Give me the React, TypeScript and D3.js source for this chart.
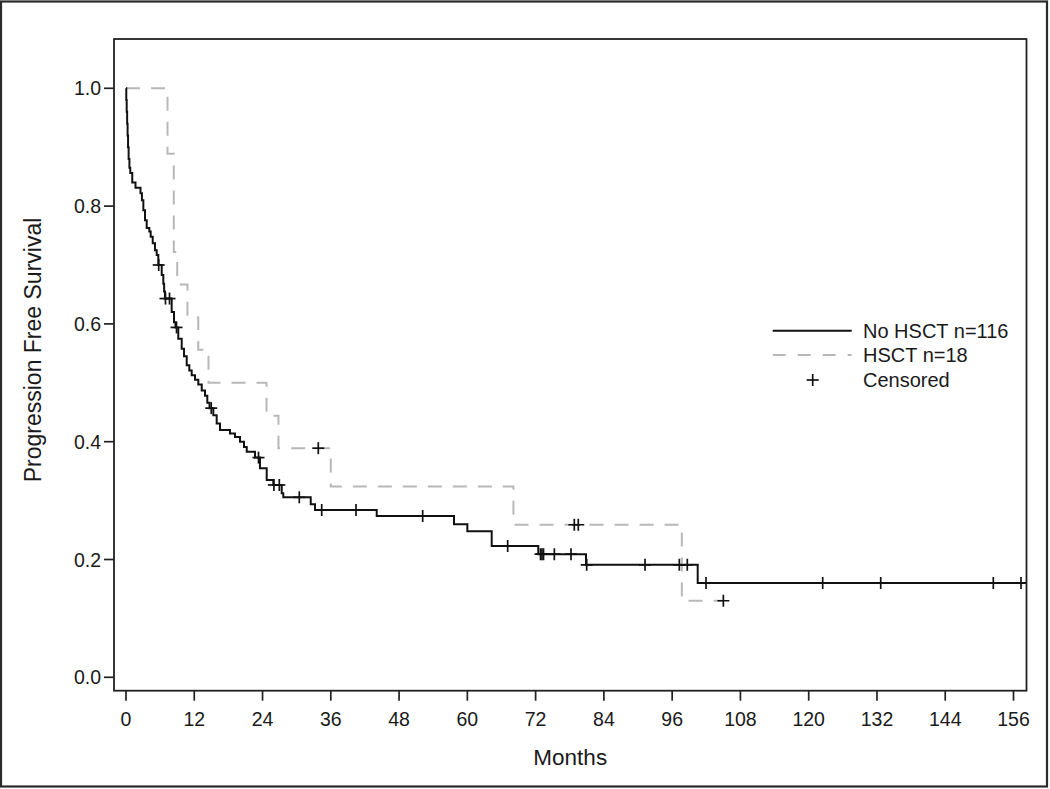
import React from "react";
import * as d3 from "d3";

// ---------- Data ----------
// No HSCT n=116 : Kaplan-Meier steps (time in months, survival after step)
const noHsctTimes = [0, 0.05, 0.12, 0.2, 0.28, 0.36, 0.46, 0.6, 0.75, 1.1, 1.67, 2.55, 2.8, 3.05, 3.34, 3.64, 4.1, 4.34, 4.7, 5.1, 5.4, 5.68, 6.28, 6.56, 6.7, 6.85, 8.03, 8.44, 8.7, 9.19, 9.79, 10.2, 10.67, 11.13, 11.55, 12.13, 12.71, 13.31, 13.89, 14.29, 14.68, 15.35, 15.94, 16.52, 18.28, 19.16, 20.04, 20.74, 21.22, 22.68, 23.55, 24.73, 25.89, 27.37, 27.65, 32.47, 33.22, 44.07, 57.65, 60.0, 64.28, 72.47, 80.86, 100.49];
const noHsctSurv = [1.0, 0.98, 0.96, 0.94, 0.92, 0.9, 0.88, 0.865, 0.856, 0.84, 0.831, 0.822, 0.81, 0.793, 0.776, 0.763, 0.757, 0.748, 0.737, 0.725, 0.717, 0.7, 0.683, 0.668, 0.655, 0.643, 0.62, 0.603, 0.594, 0.575, 0.558, 0.545, 0.53, 0.521, 0.513, 0.505, 0.497, 0.487, 0.478, 0.466, 0.457, 0.445, 0.431, 0.42, 0.414, 0.408, 0.4, 0.391, 0.383, 0.373, 0.355, 0.335, 0.3265, 0.3124, 0.3056, 0.294, 0.284, 0.274, 0.26, 0.248, 0.223, 0.209, 0.191, 0.16];
const noHsctEnd = 158.2;
const noHsctCensor = [5.75, 6.94, 7.65, 8.88, 14.98, 23.29, 26.0, 26.95, 30.46, 34.4, 40.43, 52.15, 67.09, 72.86, 73.12, 73.39, 75.29, 78.22, 80.98, 91.23, 97.26, 98.66, 101.95, 122.46, 132.66, 152.45, 157.32];

// HSCT n=18
const hsctTimes = [0, 7.3, 8.4, 9.0, 10.8, 12.7, 14.5, 24.7, 26.8, 36.0, 68.1, 97.7];
const hsctSurv = [1.0, 0.889, 0.722, 0.667, 0.611, 0.556, 0.5, 0.444, 0.389, 0.324, 0.259, 0.13];
const hsctEnd = 105.0;
const hsctCensor = [33.8, 78.8, 79.5, 105.0];

const xTicks = [0, 12, 24, 36, 48, 60, 72, 84, 96, 108, 120, 132, 144, 156];
const yTicks = [0, 0.2, 0.4, 0.6, 0.8, 1.0];
const legendLabels = ["No HSCT n=116", "HSCT n=18", "Censored"];

// ---------- Layout ----------
const W = 1050;
const H = 789;
const plot = { left: 114, right: 1026.5, top: 39, bottom: 690.7 };
const FONT = "Arial, 'Liberation Sans', Helvetica, sans-serif";
const INK = "#1a1a1a";

const x = d3.scaleLinear().domain([0, 156]).range([126, 1013.5]);
const y = d3.scaleLinear().domain([0, 1]).range([677.3, 88.3]);

function survAt(times: number[], surv: number[], t: number) {
  let s = surv[0];
  for (let i = 0; i < times.length; i++) {
    if (times[i] <= t) s = surv[i];
  }
  return s;
}

function stepPath(times: number[], surv: number[], end: number) {
  const pts: [number, number][] = times.map((t, i) => [t, surv[i]]);
  pts.push([end, surv[surv.length - 1]]);
  const line = d3
    .line<[number, number]>()
    .x((d) => x(d[0]))
    .y((d) => y(d[1]))
    .curve(d3.curveStepAfter);
  return line(pts) || "";
}

const Plus = ({ cx, cy, s = 6 }: { cx: number; cy: number; s?: number }) => (
  <g stroke="#111" strokeWidth={1.7}>
    <line x1={cx - s} x2={cx + s} y1={cy} y2={cy} />
    <line x1={cx} x2={cx} y1={cy - s} y2={cy + s} />
  </g>
);

export default function App() {
  const blackPath = stepPath(noHsctTimes, noHsctSurv, noHsctEnd);
  const grayPath = stepPath(hsctTimes, hsctSurv, hsctEnd);
  return (
    <svg
      width={W}
      height={H}
      style={{ position: "absolute", left: 0, top: 0, display: "block", background: "#fff" }}
      fontFamily={FONT}
    >
      <rect x={0} y={0} width={W} height={H} fill="#fff" />
      {/* outer frame */}
      <rect x={1} y={1.5} width={1046} height={785} fill="none" stroke="#2a2a2a" strokeWidth={2.2} />

      <defs>
        <clipPath id="plotclip">
          <rect x={plot.left} y={plot.top} width={plot.right - plot.left} height={plot.bottom - plot.top} />
        </clipPath>
      </defs>

      {/* curves */}
      <g clipPath="url(#plotclip)">
        <path d={grayPath} fill="none" stroke="#b8b8b8" strokeWidth={2} strokeDasharray="14,11" />
        <path d={blackPath} fill="none" stroke="#111" strokeWidth={2} />
        {hsctCensor.map((t, i) => (
          <Plus key={"h" + i} cx={x(t)} cy={y(survAt(hsctTimes, hsctSurv, t))} />
        ))}
        {noHsctCensor.map((t, i) => (
          <Plus key={"n" + i} cx={x(t)} cy={y(survAt(noHsctTimes, noHsctSurv, t))} />
        ))}
      </g>

      {/* plot frame */}
      <rect
        x={plot.left}
        y={plot.top}
        width={plot.right - plot.left}
        height={plot.bottom - plot.top}
        fill="none"
        stroke="#222"
        strokeWidth={1.8}
      />

      {/* x axis ticks */}
      {xTicks.map((t) => (
        <g key={"x" + t}>
          <line x1={x(t)} x2={x(t)} y1={plot.bottom} y2={plot.bottom + 10} stroke="#222" strokeWidth={1.7} />
          <text x={x(t)} y={726} textAnchor="middle" fontSize={19.5} fill={INK}>
            {t}
          </text>
        </g>
      ))}
      {/* y axis ticks */}
      {yTicks.map((v) => (
        <g key={"y" + v}>
          <line x1={plot.left - 10} x2={plot.left} y1={y(v)} y2={y(v)} stroke="#222" strokeWidth={1.7} />
          <text x={101} y={y(v) + 7} textAnchor="end" fontSize={19.5} fill={INK}>
            {v.toFixed(1)}
          </text>
        </g>
      ))}

      {/* axis labels */}
      <text x={(plot.left + plot.right) / 2} y={765} textAnchor="middle" fontSize={22.5} fill={INK}>
        Months
      </text>
      <text
        transform={`translate(41, 350) rotate(-90)`}
        textAnchor="middle"
        fontSize={23}
        fill={INK}
      >
        Progression Free Survival
      </text>

      {/* legend */}
      <g>
        <line x1={772.7} x2={851.7} y1={330.7} y2={330.7} stroke="#111" strokeWidth={2} />
        <text x={863} y={337.7} fontSize={20} fill={INK}>
          {legendLabels[0]}
        </text>
        <line x1={772.7} x2={851.7} y1={355} y2={355} stroke="#b8b8b8" strokeWidth={2} strokeDasharray="13,12" />
        <text x={863} y={362} fontSize={20} fill={INK}>
          {legendLabels[1]}
        </text>
        <Plus cx={812.7} cy={380} />
        <text x={863} y={387} fontSize={20} fill={INK}>
          {legendLabels[2]}
        </text>
      </g>
    </svg>
  );
}
